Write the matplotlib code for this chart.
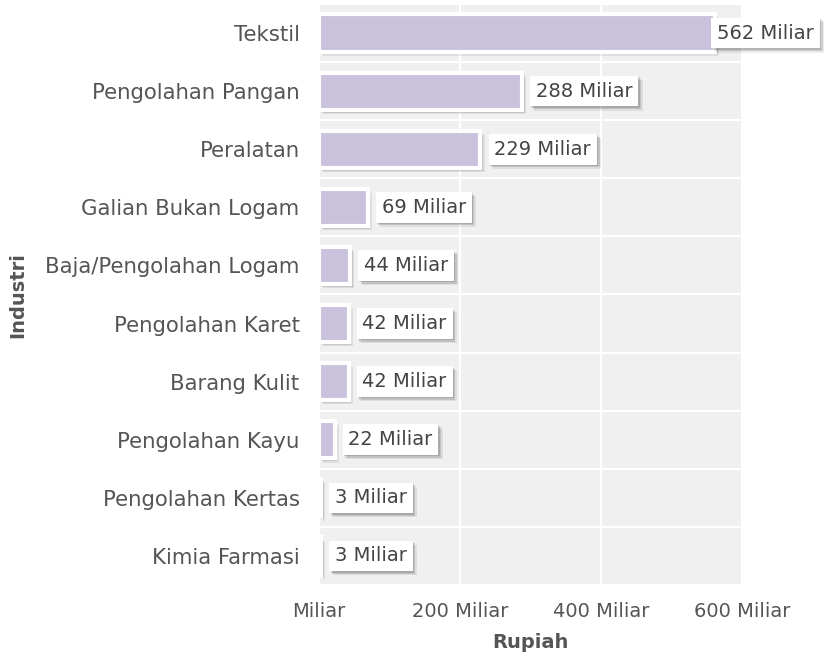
import matplotlib
matplotlib.use("Agg")
import matplotlib.pyplot as plt
import matplotlib.patheffects as pe
from matplotlib.ticker import FixedLocator

categories = ["Tekstil", "Pengolahan Pangan", "Peralatan", "Galian Bukan Logam",
              "Baja/Pengolahan Logam", "Pengolahan Karet", "Barang Kulit",
              "Pengolahan Kayu", "Pengolahan Kertas", "Kimia Farmasi"]
values = [562, 288, 229, 69, 44, 42, 42, 22, 3, 3]
xticks = [0, 200, 400, 600]
xticklabels = ["Miliar", "200 Miliar", "400 Miliar", "600 Miliar"]

plt.rcParams['font.family'] = ['DejaVu Sans']
txt = '#555555'
fs = 14

fig = plt.figure(figsize=(8.24, 6.68), dpi=100)
ax = fig.add_axes([319/824, 1-585/668, (742-319)/824, (585-4)/668])
ax.set_facecolor('#f0f0f0')

ypos = list(range(len(categories)))
shadow = [pe.SimplePatchShadow(offset=(1, -1), shadow_rgbFace='black', alpha=0.12),
          pe.SimplePatchShadow(offset=(2, -2), shadow_rgbFace='black', alpha=0.12),
          pe.SimplePatchShadow(offset=(3, -3), shadow_rgbFace='black', alpha=0.08),
          pe.Normal()]
bars = ax.barh(ypos, values, height=0.64, color='#cac1dc', edgecolor='white',
               linewidth=3, zorder=3)
for b in bars:
    b.set_path_effects(shadow)

vmax = max(values)
for y, v in zip(ypos, values):
    off = 1.5 if v == vmax else 10
    t = ax.annotate(f"{v} Miliar", (v, y), xytext=(off, 0), textcoords='offset points',
                    va='center', ha='left', fontsize=fs, color='#444444', zorder=5,
                    bbox=dict(boxstyle='square,pad=0.3', fc='white', ec='none'),
                    annotation_clip=False)
    t.get_bbox_patch().set_path_effects(shadow)

ax.set_xlim(0, 600)
ax.set_ylim(len(categories) - 0.5, -0.5)
ax.set_yticks(ypos)
ax.set_yticklabels(categories, fontsize=15.3, color=txt)
ax.yaxis.set_minor_locator(FixedLocator([i + 0.5 for i in range(-1, len(categories))]))
ax.set_xticks(xticks)
ax.set_xticklabels(xticklabels, fontsize=fs, color=txt)
ax.tick_params(axis='y', length=0, pad=14, which='both')
ax.tick_params(axis='x', length=0, pad=12, which='both')
ax.grid(axis='x', which='major', color='white', linewidth=1.5, zorder=0)
ax.grid(axis='y', which='minor', color='white', linewidth=1.5, zorder=0)
ax.grid(axis='y', which='major', visible=False)
ax.set_axisbelow(True)
for s in ax.spines.values():
    s.set_visible(False)

ax.set_xlabel("Rupiah", fontsize=fs, fontweight='bold', color=txt, labelpad=9)
fig.text(18/824, 1-295/668, "Industri", rotation=90, fontsize=fs, fontweight='bold',
         color=txt, ha='center', va='center')

fig.savefig("out.png", dpi=100)
